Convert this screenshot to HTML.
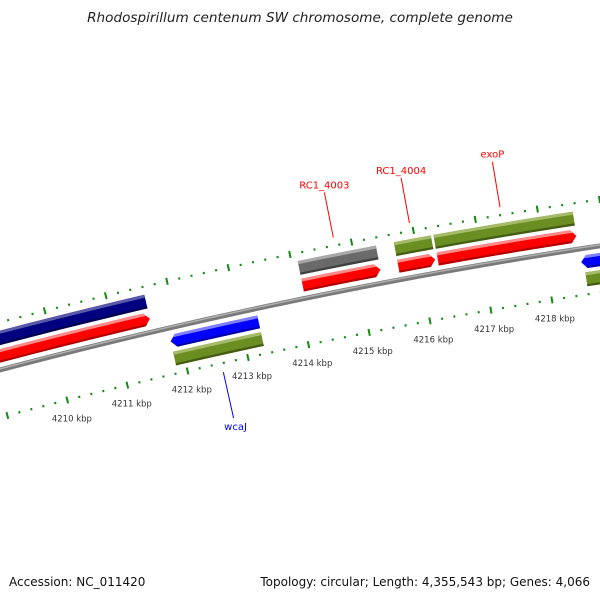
<!DOCTYPE html>
<html><head><meta charset="utf-8">
<style>
html,body{margin:0;padding:0;background:#fff;}
svg{display:block;font-family:"DejaVu Sans","Liberation Sans",sans-serif;}
</style></head>
<body>
<svg id="map" width="600" height="600" viewBox="0 0 600 600" xmlns="http://www.w3.org/2000/svg">
<rect width="600" height="600" fill="#fff"/>
<text x="300" y="22" text-anchor="middle" font-size="13.6" font-style="italic" fill="#222">Rhodospirillum centenum SW chromosome, complete genome</text>
<g id="backbone-layer"></g>
<g id="tick-layer"></g>
<g id="gene-layer"></g>
<g id="label-layer"></g>
<text x="9" y="586" font-size="12" fill="#111">Accession: NC_011420</text>
<text x="590" y="586" text-anchor="end" font-size="12" fill="#111">Topology: circular; Length: 4,355,543 bp; Genes: 4,066</text>
</svg>
<script>
// ---- data (positions in kbp) ----
const geneStarts = [4205.0, 4205.0, 4211.84, 4211.84, 4214.10, 4214.10, 4215.66, 4215.66, 4216.30, 4216.30, 4218.56, 4218.60];
const geneEnds   = [4211.60, 4211.60, 4213.29, 4213.29, 4215.37, 4215.37, 4216.26, 4216.26, 4218.55, 4218.55, 4221.0, 4221.0];
const geneRows   = [2, 1, -1, -2, 2, 1, 2, 1, 2, 1, -1, -2];
const geneStrands= [1, 1, -1, -1, 1, 1, 1, 1, 1, 1, -1, -1];
const geneColors = ["navy","red","blue","olive","gray","red","olive","red","olive","red","blue","olive"];
const labelNames = ["RC1_4003", "RC1_4004", "exoP", "wcaJ"];
const labelPos   = [4214.73, 4215.96, 4217.42, 4212.56];
const labelStrand= [1, 1, 1, -1];
const tickStart = 4208.6, tickEnd = 4219.8;
const tickLabelKbp = [4210, 4211, 4212, 4213, 4214, 4215, 4216, 4217, 4218];

// ---- geometry ----
const CX = 1440, CY = 5824, RB = 5641, PHI0 = -0.2147, DPHI = 0.01106;
function pt(k, r){ const p = PHI0 + (k - 4213) * DPHI; return [CX + r*Math.sin(p), CY - r*Math.cos(p)]; }
const NS = "http://www.w3.org/2000/svg";
function mk(tag, attrs, parent){ const e = document.createElementNS(NS, tag); for (const a in attrs) e.setAttribute(a, attrs[a]); parent.appendChild(e); return e; }
const palette = {
  red:   ["#ff8a8a", "#ff0000", "#b00000"],
  blue:  ["#8080ff", "#0000ff", "#0000a8"],
  navy:  ["#5a5aa8", "#000080", "#000050"],
  olive: ["#a6bb6a", "#6b8e23", "#445c14"],
  gray:  ["#a8a8a8", "#6a6a6a", "#404040"]
};
const rowR = { "2": [24, 38], "1": [7, 20], "-1": [-20, -7], "-2": [-38, -24] };
function arcPts(k1, k2, r){ const out = []; const n = Math.max(2, Math.ceil(Math.abs(k2-k1)/0.5)+1); for (let i=0;i<n;i++){ out.push(pt(k1 + (k2-k1)*i/(n-1), r)); } return out; }

// backbone
const bb = document.getElementById('backbone-layer');
function arcPath(k1, k2, r){ return arcPts(k1, k2, r).map((p,i)=>(i?'L':'M')+p[0].toFixed(2)+','+p[1].toFixed(2)).join(''); }
let e = mk('path', {d: arcPath(4205, 4222, RB), stroke: '#7a7a7a', 'stroke-width': 5, fill: 'none'}, bb);


e = mk('path', {d: arcPath(4205, 4222, RB+1), stroke: '#b0b0b0', 'stroke-width': 1.5, fill: 'none'}, bb);



// ticks
const tl = document.getElementById('tick-layer');
const ringR = [RB - 46, RB + 46];
for (let i = 0; tickStart + i*0.2 <= tickEnd + 1e-9; i++){
  const k = tickStart + i*0.2;
  const major = Math.abs(k - Math.round(k)) < 1e-6;
  const half = major ? 3.5 : 1.1;
  for (const r of ringR){
    const a = pt(k, r - half), b = pt(k, r + half);
    const t = mk('line', {x1:a[0], y1:a[1], x2:b[0], y2:b[1], stroke:'#138a13', 'stroke-width': 2}, tl);
    
    
  }
}
for (const k of tickLabelKbp){
  const p = pt(k, RB - 46 - 19);
  const t = mk('text', {x: p[0], y: p[1] + 3, 'text-anchor': 'middle', 'font-size': 8.5, fill: '#333'}, tl);
  t.textContent = k + ' kbp';
  
  
}

// genes
const gl = document.getElementById('gene-layer');
const AR = 0.09;
function bandPoly(s, en, strand, arrow, r0, r1, ra, rb){
  const mid = (r0 + r1)/2, half = (r1 - r0)/2;
  const f = r => arrow ? AR * Math.abs(r - mid)/half : 0;
  const L = r => strand < 0 ? s + f(r) : s;
  const R = r => strand > 0 ? en - f(r) : en;
  let pts = arcPts(L(rb), R(rb), rb);
  if (arrow && strand > 0 && ra < mid && rb > mid) pts.push(pt(en, mid));
  pts = pts.concat(arcPts(R(ra), L(ra), ra));
  if (arrow && strand < 0 && ra < mid && rb > mid) pts.push(pt(s, mid));
  return pts.map(p => p[0].toFixed(2)+','+p[1].toFixed(2)).join(' ');
}
for (let i = 0; i < geneStarts.length; i++){
  const [o0, o1] = rowR[String(geneRows[i])];
  const r0 = RB + o0, r1 = RB + o1;
  const arrow = Math.abs(geneRows[i]) === 1;
  const c = palette[geneColors[i]];
  const g = mk('g', {}, gl);
  
  
  const s = geneStarts[i], en = geneEnds[i], st = geneStrands[i];
  const h = r1 - r0;
  mk('polygon', {points: bandPoly(s, en, st, arrow, r0, r1, r0, r1), fill: c[1]}, g);
  mk('polygon', {points: bandPoly(s, en, st, arrow, r0, r1, r1 - h*0.22, r1), fill: c[0]}, g);
  mk('polygon', {points: bandPoly(s, en, st, arrow, r0, r1, r0, r0 + h*0.16), fill: c[2]}, g);
}

// labels
const ll = document.getElementById('label-layer');
for (let i = 0; i < labelNames.length; i++){
  const out = labelStrand[i] > 0;
  const col = out ? '#ff0000' : '#0000ff';
  const a = pt(labelPos[i], out ? RB + 54 : RB - 55);
  const b = pt(labelPos[i], out ? RB + 100 : RB - 102);
  const ln = mk('line', {x1:a[0], y1:a[1], x2:b[0], y2:b[1], stroke: col, 'stroke-width': 1}, ll);
  
  
  const t = mk('text', {x: out ? b[0] : b[0] + 2, y: out ? b[1] - 4 : b[1] + 12, 'text-anchor': 'middle', 'font-size': 10, fill: col}, ll);
  t.textContent = labelNames[i];
  
  
}
</script>
</body></html>
